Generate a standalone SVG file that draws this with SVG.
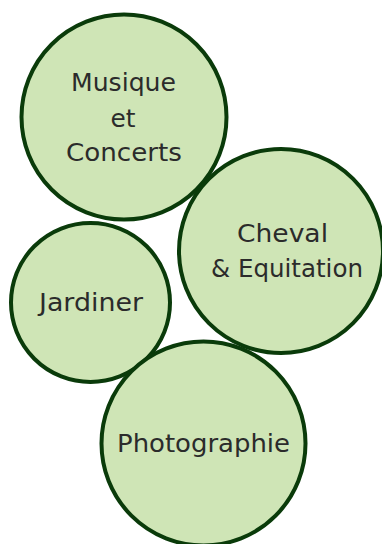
<svg xmlns="http://www.w3.org/2000/svg" width="382" height="544" viewBox="0 0 382 544">
<style>
.c{fill:#cfe5b6;stroke:#0a3b0a;stroke-width:4}
.t{font-family:"DejaVu Sans","Liberation Sans",sans-serif;font-size:24px;fill:#2b2b2b;text-anchor:middle}
</style>
<rect width="382" height="544" fill="#ffffff"/>
<g id="connectors"></g>
<g id="musique">
<circle class="c" cx="124" cy="117" r="102.5"/>
<text class="t" x="123.5" y="91" textLength="105" lengthAdjust="spacingAndGlyphs">Musique</text>
<text class="t" x="123" y="127" textLength="25" lengthAdjust="spacingAndGlyphs">et</text>
<text class="t" x="124" y="161" textLength="116" lengthAdjust="spacingAndGlyphs">Concerts</text>
</g>
<g id="cheval">
<circle class="c" cx="281" cy="251" r="102"/>
<text class="t" x="282.5" y="242" textLength="91" lengthAdjust="spacingAndGlyphs">Cheval</text>
<text class="t" x="287" y="277" textLength="152" lengthAdjust="spacingAndGlyphs">&amp; Equitation</text>
</g>
<g id="jardiner">
<circle class="c" cx="90.5" cy="302.5" r="79.5"/>
<text class="t" x="91" y="311" textLength="104" lengthAdjust="spacingAndGlyphs">Jardiner</text>
</g>
<g id="photographie">
<circle class="c" cx="203.5" cy="443.5" r="102"/>
<text class="t" x="203.5" y="452" textLength="173" lengthAdjust="spacingAndGlyphs">Photographie</text>
</g>
</svg>
